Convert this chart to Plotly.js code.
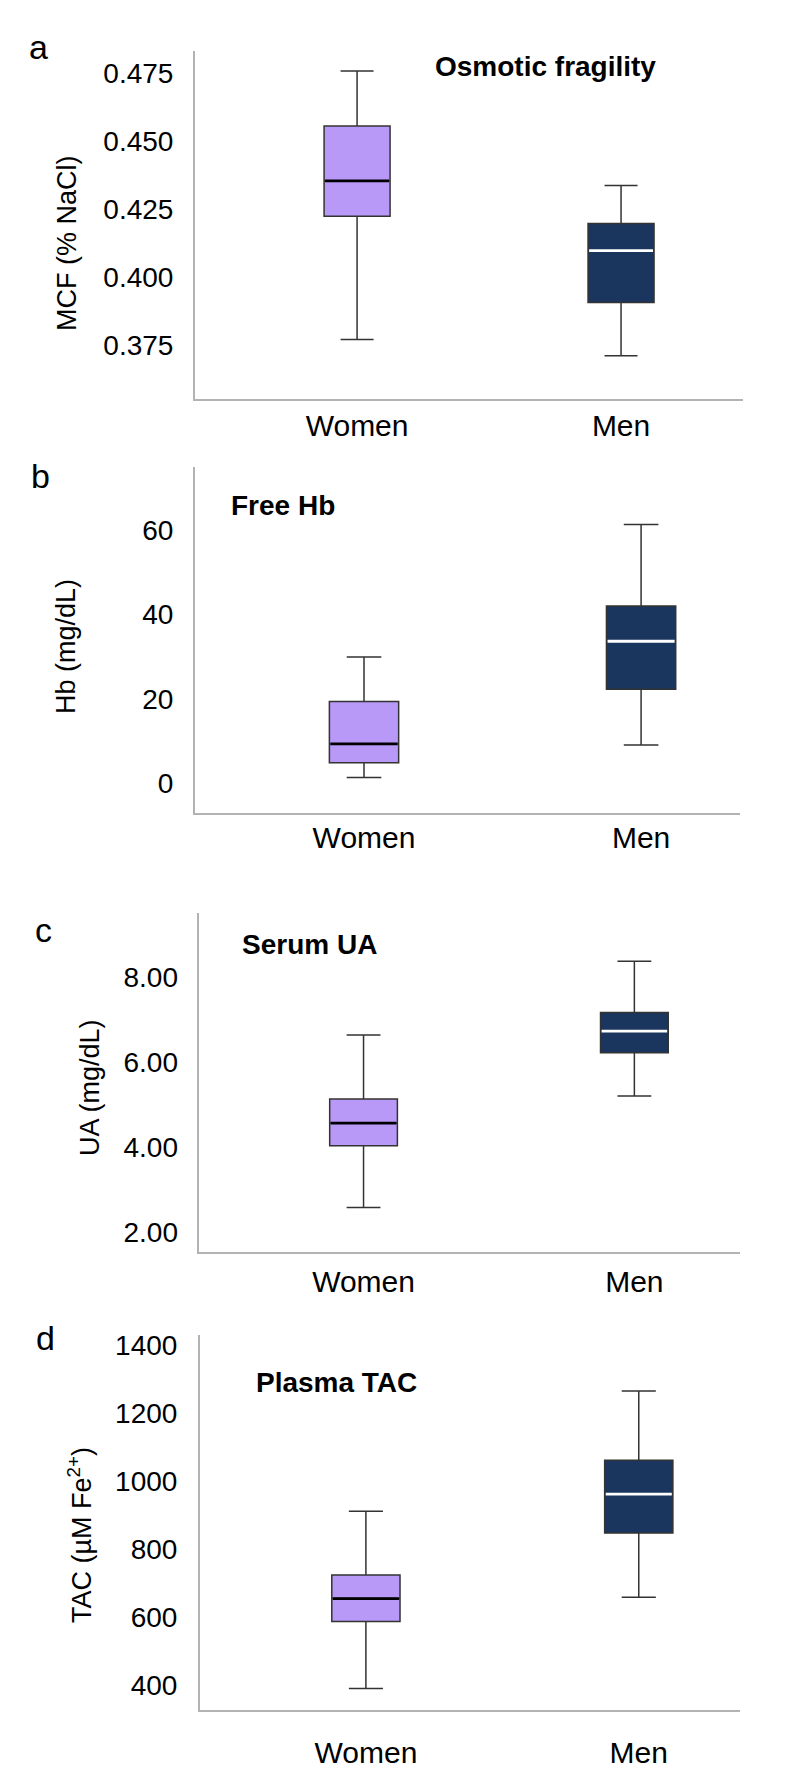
<!DOCTYPE html>
<html><head><meta charset="utf-8">
<script src="https://cdn.plot.ly/plotly-3.0.1.min.js"></script>
<style>html,body{margin:0;padding:0;background:#fff}</style>
</head><body><div id="chart" style="width:800px;height:1791px"></div>
<script>
const categories = ['Women', 'Men'];

// Panel a: Osmotic fragility, MCF (% NaCl)  [Women, Men]
const mcfLower  = [0.377, 0.371];
const mcfQ1     = [0.4224, 0.3906];
const mcfMedian = [0.4354, 0.4097];
const mcfQ3     = [0.4556, 0.4197];
const mcfUpper  = [0.4758, 0.4337];
const mcfTicks  = [0.375, 0.400, 0.425, 0.450, 0.475];

// Panel b: Free Hb (mg/dL)
const hbLower  = [1.4, 9.1];
const hbQ1     = [4.9, 22.3];
const hbMedian = [9.35, 33.65];
const hbQ3     = [19.4, 42.0];
const hbUpper  = [29.9, 61.25];
const hbTicks  = [0, 20, 40, 60];

// Panel c: Serum UA (mg/dL)
const uaLower  = [2.57, 5.2];
const uaQ1     = [4.03, 6.22];
const uaMedian = [4.56, 6.73];
const uaQ3     = [5.13, 7.17];
const uaUpper  = [6.64, 8.38];
const uaTicks  = [2, 4, 6, 8];

// Panel d: Plasma TAC (µM Fe2+)
const tacLower  = [390, 658];
const tacQ1     = [587, 847];
const tacMedian = [654, 961];
const tacQ3     = [723.5, 1061];
const tacUpper  = [911, 1264];
const tacTicks  = [400, 600, 800, 1000, 1200, 1400];

const FONT = 'Liberation Sans, Arial, Helvetica, sans-serif';
const H = 1791, W = 800;
const fillColors = ['#b899f7', '#1a365e'];
const medianColors = ['#000000', '#ffffff'];
const boxW = 0.25;

const panels = [
  {lower: mcfLower, q1: mcfQ1, med: mcfMedian, q3: mcfQ3, upper: mcfUpper, ticks: mcfTicks, fmt: '.3f',
   yr: [0.3551, 0.4833], xr: [-0.614, 1.462], px: [195, 743], py: [50.7, 399],
   xlen: 0, xstand: -1, ylen: 14,
   letter: 'a', letterPos: [38, 47], title: 'Osmotic fragility', titlePos: [545, 67],
   ytitle: 'MCF (% NaCl)', ytitlePos: [67, 243]},
  {lower: hbLower, q1: hbQ1, med: hbMedian, q3: hbQ3, upper: hbUpper, ticks: hbTicks, fmt: 'd',
   yr: [-7.05, 74.8], xr: [-0.61, 1.357], px: [195, 740], py: [467.3, 813.3],
   xlen: 0, xstand: -3, ylen: 14,
   letter: 'b', letterPos: [40, 476], title: 'Free Hb', titlePos: [283, 505],
   ytitle: 'Hb (mg/dL)', ytitlePos: [66, 647]},
  {lower: uaLower, q1: uaQ1, med: uaMedian, q3: uaQ3, upper: uaUpper, ticks: uaTicks, fmt: '.2f',
   yr: [1.53, 9.51], xr: [-0.609, 1.39], px: [198.6, 740], py: [913.3, 1251.7],
   xlen: 2, xstand: 0, ylen: 13,
   letter: 'c', letterPos: [43, 930], title: 'Serum UA', titlePos: [309, 945],
   ytitle: 'UA (mg/dL)', ytitlePos: [90, 1088]},
  {lower: tacLower, q1: tacQ1, med: tacMedian, q3: tacQ3, upper: tacUpper, ticks: tacTicks, fmt: 'd',
   yr: [326.5, 1429], xr: [-0.608, 1.371], px: [200, 740], py: [1335, 1710],
   xlen: 15, xstand: 0, ylen: 15,
   letter: 'd', letterPos: [45, 1338], title: 'Plasma TAC', titlePos: [336, 1382],
   ytitle: 'TAC (µM Fe<sup>2+</sup>)', ytitlePos: [80, 1535]}
];

const traces = [];
const layout = {
  width: W, height: H,
  margin: {l: 0, r: 0, t: 0, b: 0},
  paper_bgcolor: '#ffffff', plot_bgcolor: '#ffffff',
  showlegend: false, boxmode: 'overlay',
  font: {family: FONT, color: '#000000'},
  annotations: []
};

panels.forEach((p, k) => {
  const n = k + 1;
  const xa = 'x' + (n === 1 ? '' : n), ya = 'y' + (n === 1 ? '' : n);
  categories.forEach((c, i) => {
    traces.push({
      type: 'box', xaxis: xa, yaxis: ya,
      x: [i], q1: [p.q1[i]], median: [p.med[i]], q3: [p.q3[i]],
      lowerfence: [p.lower[i]], upperfence: [p.upper[i]],
      width: boxW, whiskerwidth: 0.5,
      fillcolor: fillColors[i],
      line: {color: '#333333', width: 1.5},
      hoverinfo: 'skip', name: c
    });
    traces.push({
      type: 'scatter', mode: 'lines', xaxis: xa, yaxis: ya,
      x: [i - boxW / 2 + 0.004, i + boxW / 2 - 0.004], y: [p.med[i], p.med[i]],
      line: {color: medianColors[i], width: 2.8},
      hoverinfo: 'skip'
    });
  });
  const xKey = 'xaxis' + (n === 1 ? '' : n), yKey = 'yaxis' + (n === 1 ? '' : n);
  layout[xKey] = {
    domain: [p.px[0] / W, p.px[1] / W], anchor: ya, range: p.xr,
    tickvals: [0, 1], ticktext: categories,
    ticks: 'outside', ticklen: p.xlen, tickcolor: 'rgba(0,0,0,0)',
    ticklabelstandoff: p.xstand,
    showline: true, linecolor: '#b3b3b3', linewidth: 2,
    showgrid: false, zeroline: false, fixedrange: true,
    tickfont: {family: FONT, size: 30, color: '#000000'}
  };
  layout[yKey] = {
    domain: [1 - p.py[1] / H, 1 - p.py[0] / H], anchor: xa, range: p.yr,
    tickvals: p.ticks, tickformat: p.fmt,
    ticks: 'outside', ticklen: p.ylen, tickcolor: 'rgba(0,0,0,0)',
    showline: true, linecolor: '#b3b3b3', linewidth: 2,
    showgrid: false, zeroline: false, fixedrange: true,
    tickfont: {family: FONT, size: 28, color: '#000000'}
  };
  layout.annotations.push({
    xref: 'paper', yref: 'paper', x: p.letterPos[0] / W, y: 1 - p.letterPos[1] / H,
    xanchor: 'center', yanchor: 'middle', showarrow: false,
    text: p.letter, font: {family: FONT, size: 34, color: '#000000'}
  });
  layout.annotations.push({
    xref: 'paper', yref: 'paper', x: p.titlePos[0] / W, y: 1 - p.titlePos[1] / H,
    xanchor: 'center', yanchor: 'middle', showarrow: false,
    text: '<b>' + p.title + '</b>', font: {family: FONT, size: 28, color: '#000000'}
  });
  layout.annotations.push({
    xref: 'paper', yref: 'paper', x: p.ytitlePos[0] / W, y: 1 - p.ytitlePos[1] / H,
    xanchor: 'center', yanchor: 'middle', showarrow: false, textangle: -90,
    text: p.ytitle, font: {family: FONT, size: 27, color: '#000000'}
  });
});

Plotly.newPlot('chart', traces, layout, {displayModeBar: false, staticPlot: true});
</script>
</body></html>
